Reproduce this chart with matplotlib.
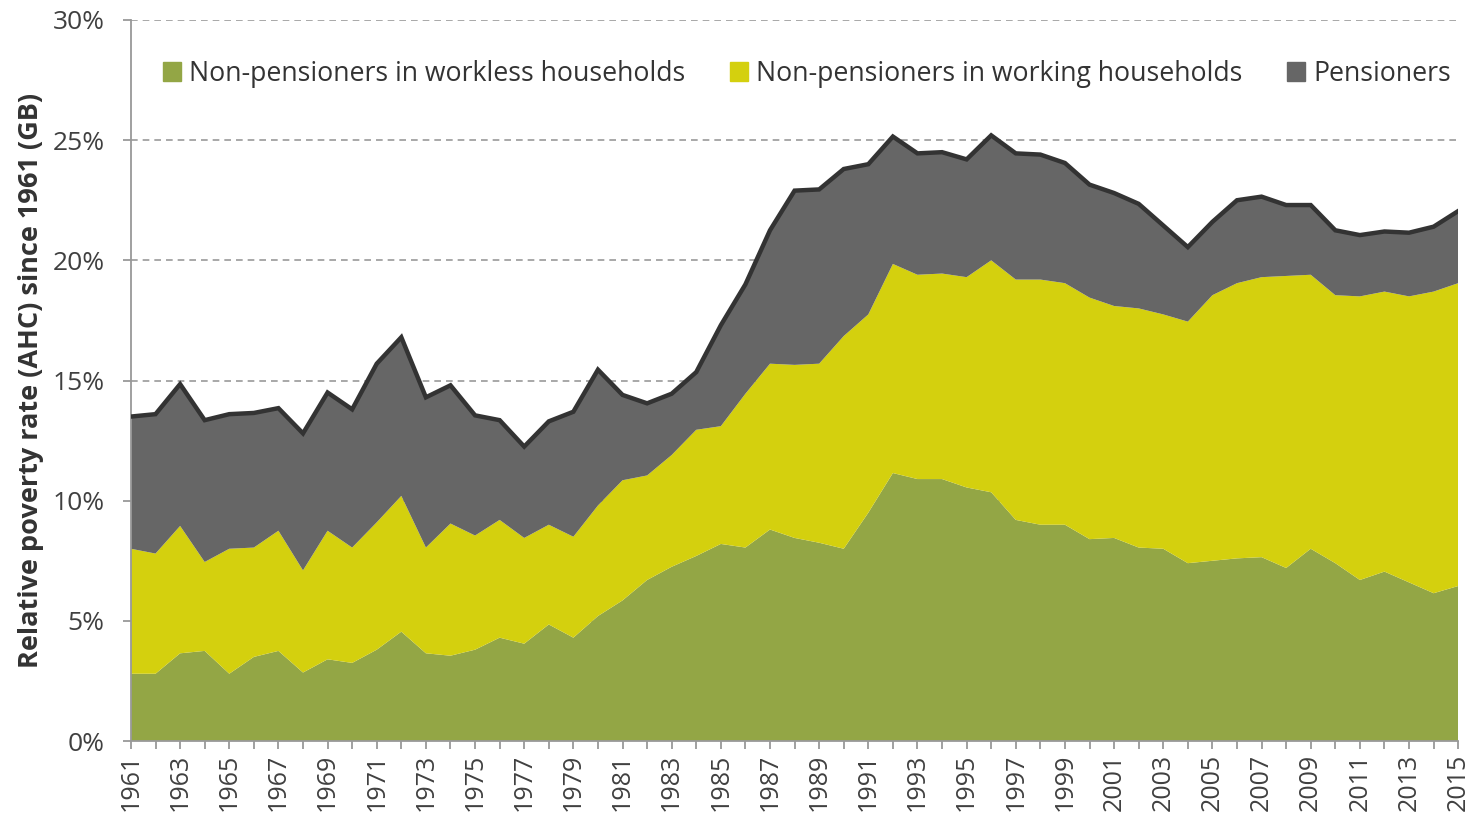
import matplotlib.pyplot as plt
from matplotlib.patches import Patch
from matplotlib.ticker import FuncFormatter

plt.rcParams['font.family'] = ['Open Sans', 'DejaVu Sans']

years = list(range(1961, 2016))

# share of population in relative poverty (AHC), %
workless = [2.8, 2.8, 3.65, 3.75, 2.8, 3.5, 3.75, 2.85, 3.4, 3.25,
            3.8, 4.55, 3.65, 3.55, 3.8, 4.3, 4.05, 4.85, 4.3, 5.2,
            5.85, 6.7, 7.25, 7.7, 8.2, 8.05, 8.8, 8.45, 8.25, 8.0,
            9.5, 11.15, 10.9, 10.9, 10.55, 10.35, 9.2, 9.0, 9.0, 8.4,
            8.45, 8.05, 8.0, 7.4, 7.5, 7.6, 7.65, 7.2, 8.0, 7.4,
            6.7, 7.05, 6.6, 6.15, 6.45]
working_top = [8.0, 7.8, 8.95, 7.45, 8.0, 8.05, 8.75, 7.1, 8.75, 8.05,
               9.1, 10.2, 8.05, 9.05, 8.55, 9.2, 8.45, 9.0, 8.5, 9.8,
               10.85, 11.05, 11.9, 12.95, 13.1, 14.45, 15.7, 15.65, 15.7, 16.85,
               17.75, 19.85, 19.4, 19.45, 19.3, 20.0, 19.2, 19.2, 19.05, 18.45,
               18.1, 18.0, 17.75, 17.45, 18.55, 19.05, 19.3, 19.35, 19.4, 18.55,
               18.5, 18.7, 18.5, 18.7, 19.05]
total = [13.5, 13.6, 14.85, 13.35, 13.6, 13.65, 13.85, 12.8, 14.5, 13.8,
         15.7, 16.8, 14.3, 14.8, 13.55, 13.35, 12.25, 13.3, 13.7, 15.45,
         14.4, 14.05, 14.45, 15.35, 17.3, 19.0, 21.25, 22.9, 22.95, 23.8,
         24.0, 25.15, 24.45, 24.5, 24.2, 25.2, 24.45, 24.4, 24.05, 23.15,
         22.8, 22.35, 21.45, 20.55, 21.6, 22.5, 22.65, 22.3, 22.3, 21.25,
         21.05, 21.2, 21.15, 21.4, 22.05]

working = [t - w for t, w in zip(working_top, workless)]
pensioners = [t - m for t, m in zip(total, working_top)]

labels = ['Non-pensioners in workless households',
          'Non-pensioners in working households',
          'Pensioners']
colors = ['#93A645', '#D4D00E', '#666666']

fig = plt.figure(figsize=(14.78, 8.19), dpi=100)
ax = fig.add_axes([0.0886, 0.0952, 0.898, 0.8804])

ax.stackplot(years, workless, working, pensioners, colors=colors,
             linewidth=0, zorder=2)
ax.plot(years, total, color='#333333', linewidth=3.2, zorder=3,
        solid_joinstyle='miter')

ax.set_xlim(1961, 2015)
ax.set_ylim(0, 30)
ax.set_yticks(range(0, 31, 5))
ax.yaxis.set_major_formatter(FuncFormatter(lambda v, p: f'{v:.0f}%'))
ax.set_xticks(years)
ax.set_xticklabels([str(y) if (y - 1961) % 2 == 0 else '' for y in years],
                   rotation=90)

for v in range(5, 31, 5):
    ax.axhline(v, color='#999999', linewidth=1.2, linestyle=(0, (4, 3)),
               zorder=1)

for s in ['top', 'right']:
    ax.spines[s].set_visible(False)
ax.spines['left'].set_color('#999999')
ax.spines['bottom'].set_color('#999999')
ax.spines['left'].set_linewidth(1.3)
ax.spines['bottom'].set_linewidth(1.3)
ax.tick_params(axis='both', colors='#999999', labelcolor='#404040',
               labelsize=18, length=6, width=1.3)
ax.tick_params(axis='x', pad=3)
ax.tick_params(axis='y', labelsize=19, pad=13)

ax.set_ylabel('Relative poverty rate (AHC) since 1961 (GB)', fontsize=19.5,
              fontweight='bold', color='#333333', labelpad=6)

handles = [Patch(color=c) for c in colors]
ax.legend(handles, labels, loc='upper left', bbox_to_anchor=(0.024, 0.945),
          ncol=3, frameon=False, fontsize=19.2, handlelength=0.7,
          handleheight=0.7, handletextpad=0.3, columnspacing=1.65,
          borderpad=0, borderaxespad=0, labelcolor='#333333')

fig.savefig('out.png', dpi=100)
